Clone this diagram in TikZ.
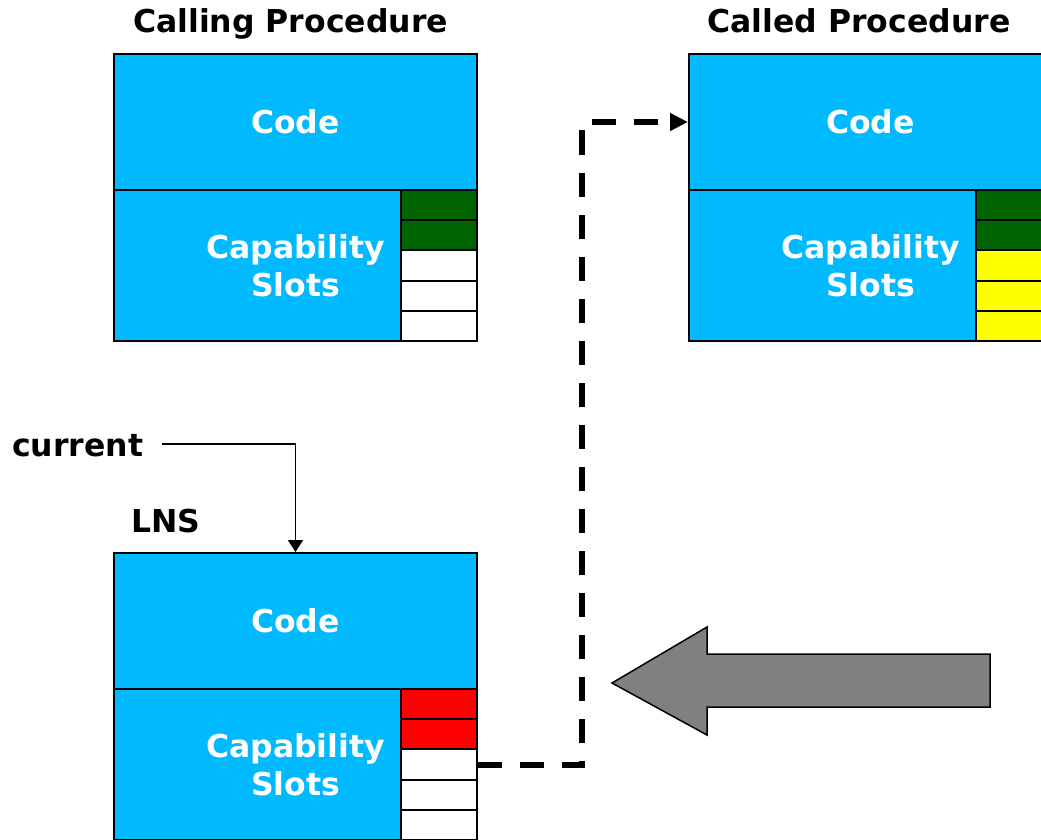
\documentclass[tikz,border=0pt]{standalone}
\usepackage{fontspec}
\setmainfont{DejaVu Sans}
\usetikzlibrary{arrows.meta}
\definecolor{procblue}{RGB}{0,185,255}
\definecolor{capgreen}{RGB}{0,100,0}
\definecolor{capred}{RGB}{255,0,0}
\definecolor{capyellow}{RGB}{255,255,0}
\definecolor{pushgray}{RGB}{128,128,128}
\tikzset{
  label text/.style={font=\bfseries\fontsize{31.5}{38}\selectfont, inner sep=0pt},
  procpart/.style={draw=black, line width=2pt, fill=procblue, text=white,
    font=\bfseries\fontsize{31.5}{38}\selectfont, align=center,
    inner sep=0pt, anchor=north west, minimum width=363pt},
  codepart/.style={procpart, minimum height=136pt},
  cappart/.style={procpart, minimum height=151pt},
  slotbox/.style={draw=black, line width=2pt, inner sep=0pt, anchor=north west,
    minimum width=76pt, minimum height=30.2pt},
  pointer/.style={draw=black, line width=1.7pt, -{Triangle[length=12pt, width=15pt]}},
  link/.style={draw=black, line width=6pt, dash pattern=on 24pt off 18pt,
    -{Triangle[length=18pt, width=17pt]}},
}
\begin{document}
\begin{tikzpicture}[x=1pt, y=-1pt]
  \useasboundingbox (0,0) rectangle (1041,840);
  \clip (0,0) rectangle (1041,840);

  % titles
  \node[label text, anchor=base] (t1) at (290.5,33) {Calling Procedure};
  \node[label text, anchor=base] (t2) at (859,33) {Called Procedure};

  % calling procedure
  \node[codepart] (c1code) at (113,53) {Code};
  \node[cappart] (c1cap) at (113,189) {Capability\\Slots};
  \node[slotbox, fill=capgreen] (a1) at (400,189.0) {};
  \node[slotbox, fill=capgreen] (a2) at (400,219.2) {};
  \node[slotbox, fill=white]    (a3) at (400,249.4) {};
  \node[slotbox, fill=white]    (a4) at (400,279.6) {};
  \node[slotbox, fill=white]    (a5) at (400,309.8) {};

  % called procedure
  \node[codepart] (c2code) at (688,53) {Code};
  \node[cappart] (c2cap) at (688,189) {Capability\\Slots};
  \node[slotbox, fill=capgreen]  (s1) at (975,189.0) {};
  \node[slotbox, fill=capgreen]  (s2) at (975,219.2) {};
  \node[slotbox, fill=capyellow] (s3) at (975,249.4) {};
  \node[slotbox, fill=capyellow] (s4) at (975,279.6) {};
  \node[slotbox, fill=capyellow] (s5) at (975,309.8) {};

  % local name space
  \node[label text, anchor=base west] (cur) at (12,456) {current};
  \node[label text, anchor=base west] (lns) at (131,532) {LNS};
  \node[codepart] (lcode) at (113,552) {Code};
  \node[cappart] (lcap) at (113,688) {Capability\\Slots};
  \node[slotbox, fill=capred] (b1) at (400,688.0) {};
  \node[slotbox, fill=capred] (b2) at (400,718.2) {};
  \node[slotbox, fill=white]  (b3) at (400,748.4) {};
  \node[slotbox, fill=white]  (b4) at (400,778.6) {};
  \node[slotbox, fill=white]  (b5) at (400,808.8) {};

  % current pointer
  \coordinate (curstart) at (162,444);
  \draw[pointer] (curstart) -| (lcode.north);

  % capability link to the called procedure
  \coordinate (turn) at (582,122);
  \draw[link] (b3.east) -| (turn) -- (c2code.west);

  % big grey arrow
  \draw[line width=1.5pt, fill=pushgray, line join=miter]
    (990,654) -- (707,654) -- (707,627) -- (612,683) -- (707,735) -- (707,707) -- (990,707) -- cycle;
\end{tikzpicture}
\end{document}
